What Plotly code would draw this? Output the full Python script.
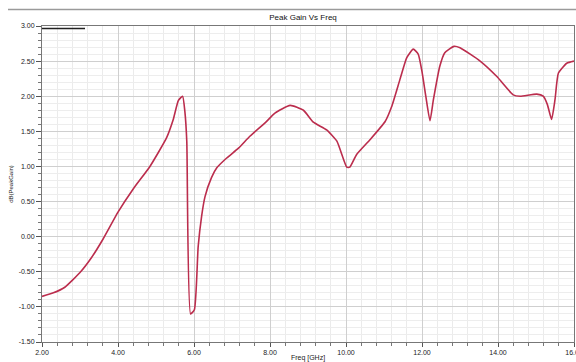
import plotly.graph_objects as go

# Peak gain sweep (GHz vs dB)
freq_ghz = [2.0, 2.3, 2.6, 3.0, 3.3, 3.6, 4.0, 4.4, 4.84, 5.28, 5.45, 5.59, 5.70,
            5.76, 5.81, 5.91, 6.01, 6.11, 6.20, 6.29, 6.46, 6.60, 6.86, 7.17, 7.47,
            7.87, 8.13, 8.53, 8.88, 9.14, 9.49, 9.76, 10.02, 10.1, 10.28, 10.63,
            11.03, 11.2, 11.42, 11.6, 11.77, 11.9, 12.0, 12.1, 12.21, 12.3, 12.47,
            12.6, 12.84, 13.0, 13.53, 13.97, 14.4, 14.58, 15.02, 15.19, 15.3, 15.41,
            15.5, 15.59, 15.81, 16.0]
peak_gain_db = [-0.85, -0.80, -0.72, -0.51, -0.30, -0.04, 0.35, 0.68, 1.00, 1.41, 1.66,
                1.94, 2.00, 1.78, 1.36, -1.10, -1.04, -0.14, 0.29, 0.57, 0.84, 0.98,
                1.12, 1.26, 1.43, 1.62, 1.76, 1.87, 1.80, 1.63, 1.52, 1.36, 0.99, 0.99,
                1.17, 1.38, 1.64, 1.85, 2.24, 2.55, 2.67, 2.60, 2.35, 2.00, 1.65, 1.95,
                2.43, 2.62, 2.71, 2.69, 2.50, 2.28, 2.02, 2.00, 2.03, 2.00, 1.88, 1.67,
                1.95, 2.33, 2.47, 2.50]

x_ticks = [2, 4, 6, 8, 10, 12, 14, 16]
y_ticks = [-1.5, -1.0, -0.5, 0.0, 0.5, 1.0, 1.5, 2.0, 2.5, 3.0]

W, H = 576, 362
L, R, T, B = 42, 2, 26, 20
pw, ph = W - L - R, H - T - B


def px(xp):
    return (xp - L) / pw


def py(yp):
    return (H - B - yp) / ph


fig = go.Figure()
fig.add_trace(go.Scatter(
    x=freq_ghz, y=peak_gain_db, mode="lines",
    line=dict(color="#bb2d4d", width=1.6, shape="spline", smoothing=0.5),
    showlegend=False, hoverinfo="skip",
))

axis_font = dict(family="Liberation Sans, Arial, sans-serif", size=7, color="#1a1a1a")

fig.update_xaxes(
    range=[2, 16], tickvals=x_ticks, ticktext=[f"{v:.2f}" for v in x_ticks],
    tickfont=axis_font, ticks="outside", ticklen=4, tickcolor="#555555",
    ticklabeloverflow="allow", automargin=False,
    showgrid=True, gridcolor="#cfcfcf", gridwidth=1,
    minor=dict(dtick=0.4, tick0=2, showgrid=True, gridcolor="#ebebeb",
               ticks="outside", ticklen=3, tickcolor="#777777"),
    showline=True, linecolor="#777777", linewidth=1, mirror=True,
    zeroline=False,
    title=dict(text="Freq [GHz]", font=dict(family="Liberation Sans, Arial, sans-serif",
                                            size=7, color="#222222"), standoff=2),
)
fig.update_yaxes(
    range=[-1.5, 3.0], tickvals=y_ticks, ticktext=[f"{v:.2f}" for v in y_ticks],
    tickfont=axis_font, ticks="outside", ticklen=5, tickcolor="#555555",
    ticklabeloverflow="allow", automargin=False,
    showgrid=True, gridcolor="#cfcfcf", gridwidth=1,
    minor=dict(dtick=0.1, tick0=0, showgrid=True, gridcolor="#ededed",
               ticks="outside", ticklen=3, tickcolor="#777777"),
    showline=True, linecolor="#777777", linewidth=1, mirror=True,
    zeroline=False,
    title=dict(text="dB(PeakGain)", font=dict(family="Liberation Sans, Arial, sans-serif",
                                              size=6, color="#222222"), standoff=4),
)

# title bar rule above the plot frame
fig.add_shape(type="line", xref="paper", yref="paper",
              x0=px(8), x1=px(576), y0=py(9.5), y1=py(9.5),
              line=dict(color="#9a9a9a", width=1.5))
# legend sample stroke in the top-left corner
fig.add_shape(type="line", xref="paper", yref="paper",
              x0=px(42), x1=px(85), y0=py(28.5), y1=py(28.5),
              line=dict(color="#222222", width=1.3))

fig.update_layout(
    width=W, height=H,
    margin=dict(l=L, r=R, t=T, b=B, autoexpand=False),
    paper_bgcolor="white", plot_bgcolor="white",
    title=dict(text="Peak Gain Vs Freq", x=(303) / W, xanchor="center",
               y=1 - 17.5 / H, yanchor="middle",
               font=dict(family="Liberation Sans, Arial, sans-serif", size=8, color="#111111")),
)

fig.write_html("out.html")
